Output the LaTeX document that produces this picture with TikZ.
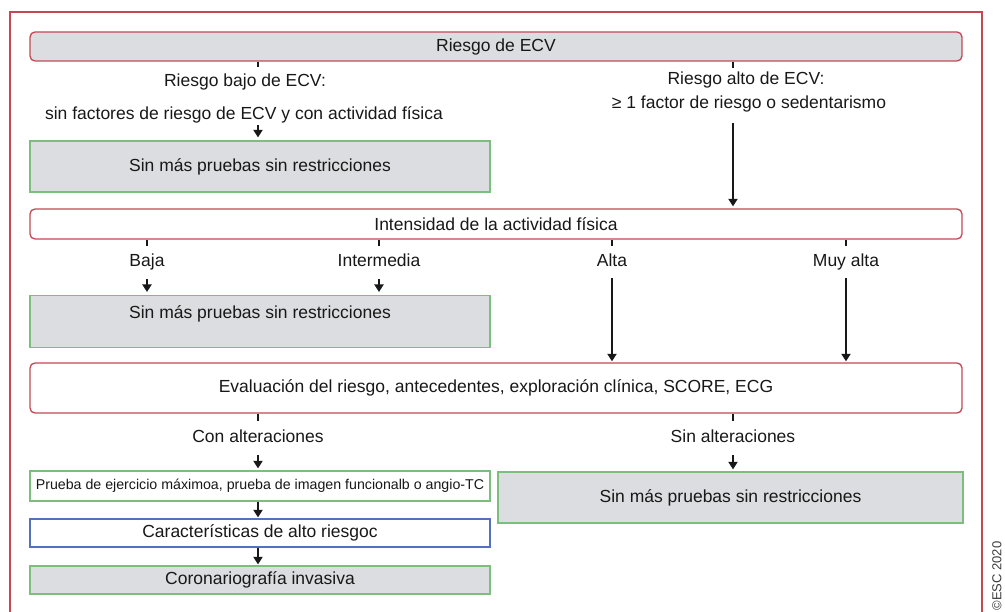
\documentclass[tikz,border=0pt]{standalone}
\usepackage{fontspec}
\setmainfont{Liberation Sans}
\usetikzlibrary{positioning, arrows.meta}

\definecolor{ecvred}{RGB}{196,72,84}
\definecolor{ecvgray}{RGB}{220,221,224}
\definecolor{ecvgreen}{RGB}{124,190,124}
\definecolor{ecvblue}{RGB}{84,112,190}
\definecolor{ecvtext}{RGB}{24,24,24}

\begin{document}
\begin{tikzpicture}[
    x=1pt, y=-1pt,
    font=\fontsize{17.5}{20}\selectfont,
    text=ecvtext,
    banner/.style={rectangle, rounded corners=5pt, draw=ecvred, line width=1.3pt, minimum width=932pt, inner sep=0pt},
    nextbox/.style={rectangle, draw=ecvgreen, fill=ecvgray, line width=1.2pt, minimum width=460pt, inner sep=0pt},
    tag/.style={inner sep=2pt, text height=12.5pt, text depth=3.7pt},
    stub/.style={draw=ecvtext, line width=1.8pt, shorten >=6pt},
    flow/.style={-{Triangle[width=9pt,length=7.5pt]}, draw=ecvtext, line width=1.8pt, shorten <=7pt, shorten >=2pt}
]
\useasboundingbox (0,0) rectangle (1005,612);

% Frame
\draw[ecvred, line width=1.5pt] (10,612) -- (10,12) -- (982,12) -- (982,612);

% Columns
\coordinate (colL) at (258,0);
\coordinate (colR) at (733,0);

% Nodes
\node[banner, fill=ecvgray, minimum height=29pt] (risk) at (496,46.5) {Riesgo de ECV};
\node[tag] (lowrisk) at (245,82) {Riesgo bajo de ECV:};
\node[tag] (lowdef) at (244,115) {sin factores de riesgo de ECV y con actividad física};
\node[tag] (highrisk) at (746,80) {Riesgo alto de ECV:};
\node[tag] (highdef) at (749,104) {≥ 1 factor de riesgo o sedentarismo};
\node[nextbox, minimum height=51pt] (free1) at (260,166.5) {Sin más pruebas sin restricciones};

\node[banner, fill=white, minimum height=30pt] (intensity) at (496,224) {Intensidad de la actividad física};
\node[tag] (low) at (147,262) {Baja};
\node[tag] (mid) at (379,262) {Intermedia};
\node[tag] (high) at (612,262) {Alta};
\node[tag] (veryhigh) at (846,262) {Muy alta};
\node[nextbox, anchor=north, text height=23pt, text depth=29pt] (free2) at (260,295) {Sin más pruebas sin restricciones};

\node[banner, fill=white, minimum height=50pt] (eval) at (496,388) {Evaluación del riesgo, antecedentes, exploración clínica, SCORE, ECG};
\node[tag] (abnormal) at (258,438) {Con alteraciones};
\node[tag] (normal) at (733,438) {Sin alteraciones};
\node[nextbox, fill=white, minimum height=30pt, font=\fontsize{14.2}{16}\selectfont] (test) at (260,486) {Prueba de ejercicio máximoa, prueba de imagen funcionalb o angio-TC};
\node[nextbox, draw=ecvblue, fill=white, minimum height=28pt] (highfeat) at (260,533) {Características de alto riesgoc};
\node[nextbox, minimum height=28pt] (coro) at (260,580) {Coronariografía invasiva};
\node[nextbox, minimum width=465pt, minimum height=51pt] (free3) at (730.5,497.5) {Sin más pruebas sin restricciones};

\node[rotate=90, font=\fontsize{13}{15}\selectfont, text=ecvtext!85] (copyright) at (997,576) {©ESC 2020};

% Edges
\draw[stub, shorten >=5pt] (risk.south -| colL) -- (lowrisk.north -| colL);
\draw[stub, shorten >=2pt] (risk.south -| colR) -- (highrisk.north -| colR);
\draw[flow, shorten <=0pt, shorten >=3pt] (lowdef.south -| colL) -- (free1.north -| colL);
\draw[flow, shorten <=9pt] (highdef.south -| colR) -- (intensity.north -| colR);

\foreach \lvl in {low, mid, high, veryhigh}
    \draw[stub] (intensity.south -| \lvl) -- (\lvl.north);
\draw[flow, shorten >=3pt] (low) -- (free2.north -| low);
\draw[flow, shorten >=3pt] (mid) -- (free2.north -| mid);
\draw[flow, shorten <=6pt, shorten >=1pt] (high) -- (eval.north -| high);
\draw[flow, shorten <=6pt, shorten >=1pt] (veryhigh) -- (eval.north -| veryhigh);

\draw[stub, shorten >=7pt] (eval.south -| abnormal) -- (abnormal.north);
\draw[stub, shorten >=7pt] (eval.south -| normal) -- (normal.north);
\draw[flow] (abnormal.south) -- (test.north -| abnormal);
\draw[flow] (normal.south) -- (free3.north -| normal);
\draw[flow, shorten <=0pt, shorten >=1pt] (test.south -| colL) -- (highfeat.north -| colL);
\draw[flow, shorten <=0pt, shorten >=1pt] (highfeat.south -| colL) -- (coro.north -| colL);

\end{tikzpicture}
\end{document}
